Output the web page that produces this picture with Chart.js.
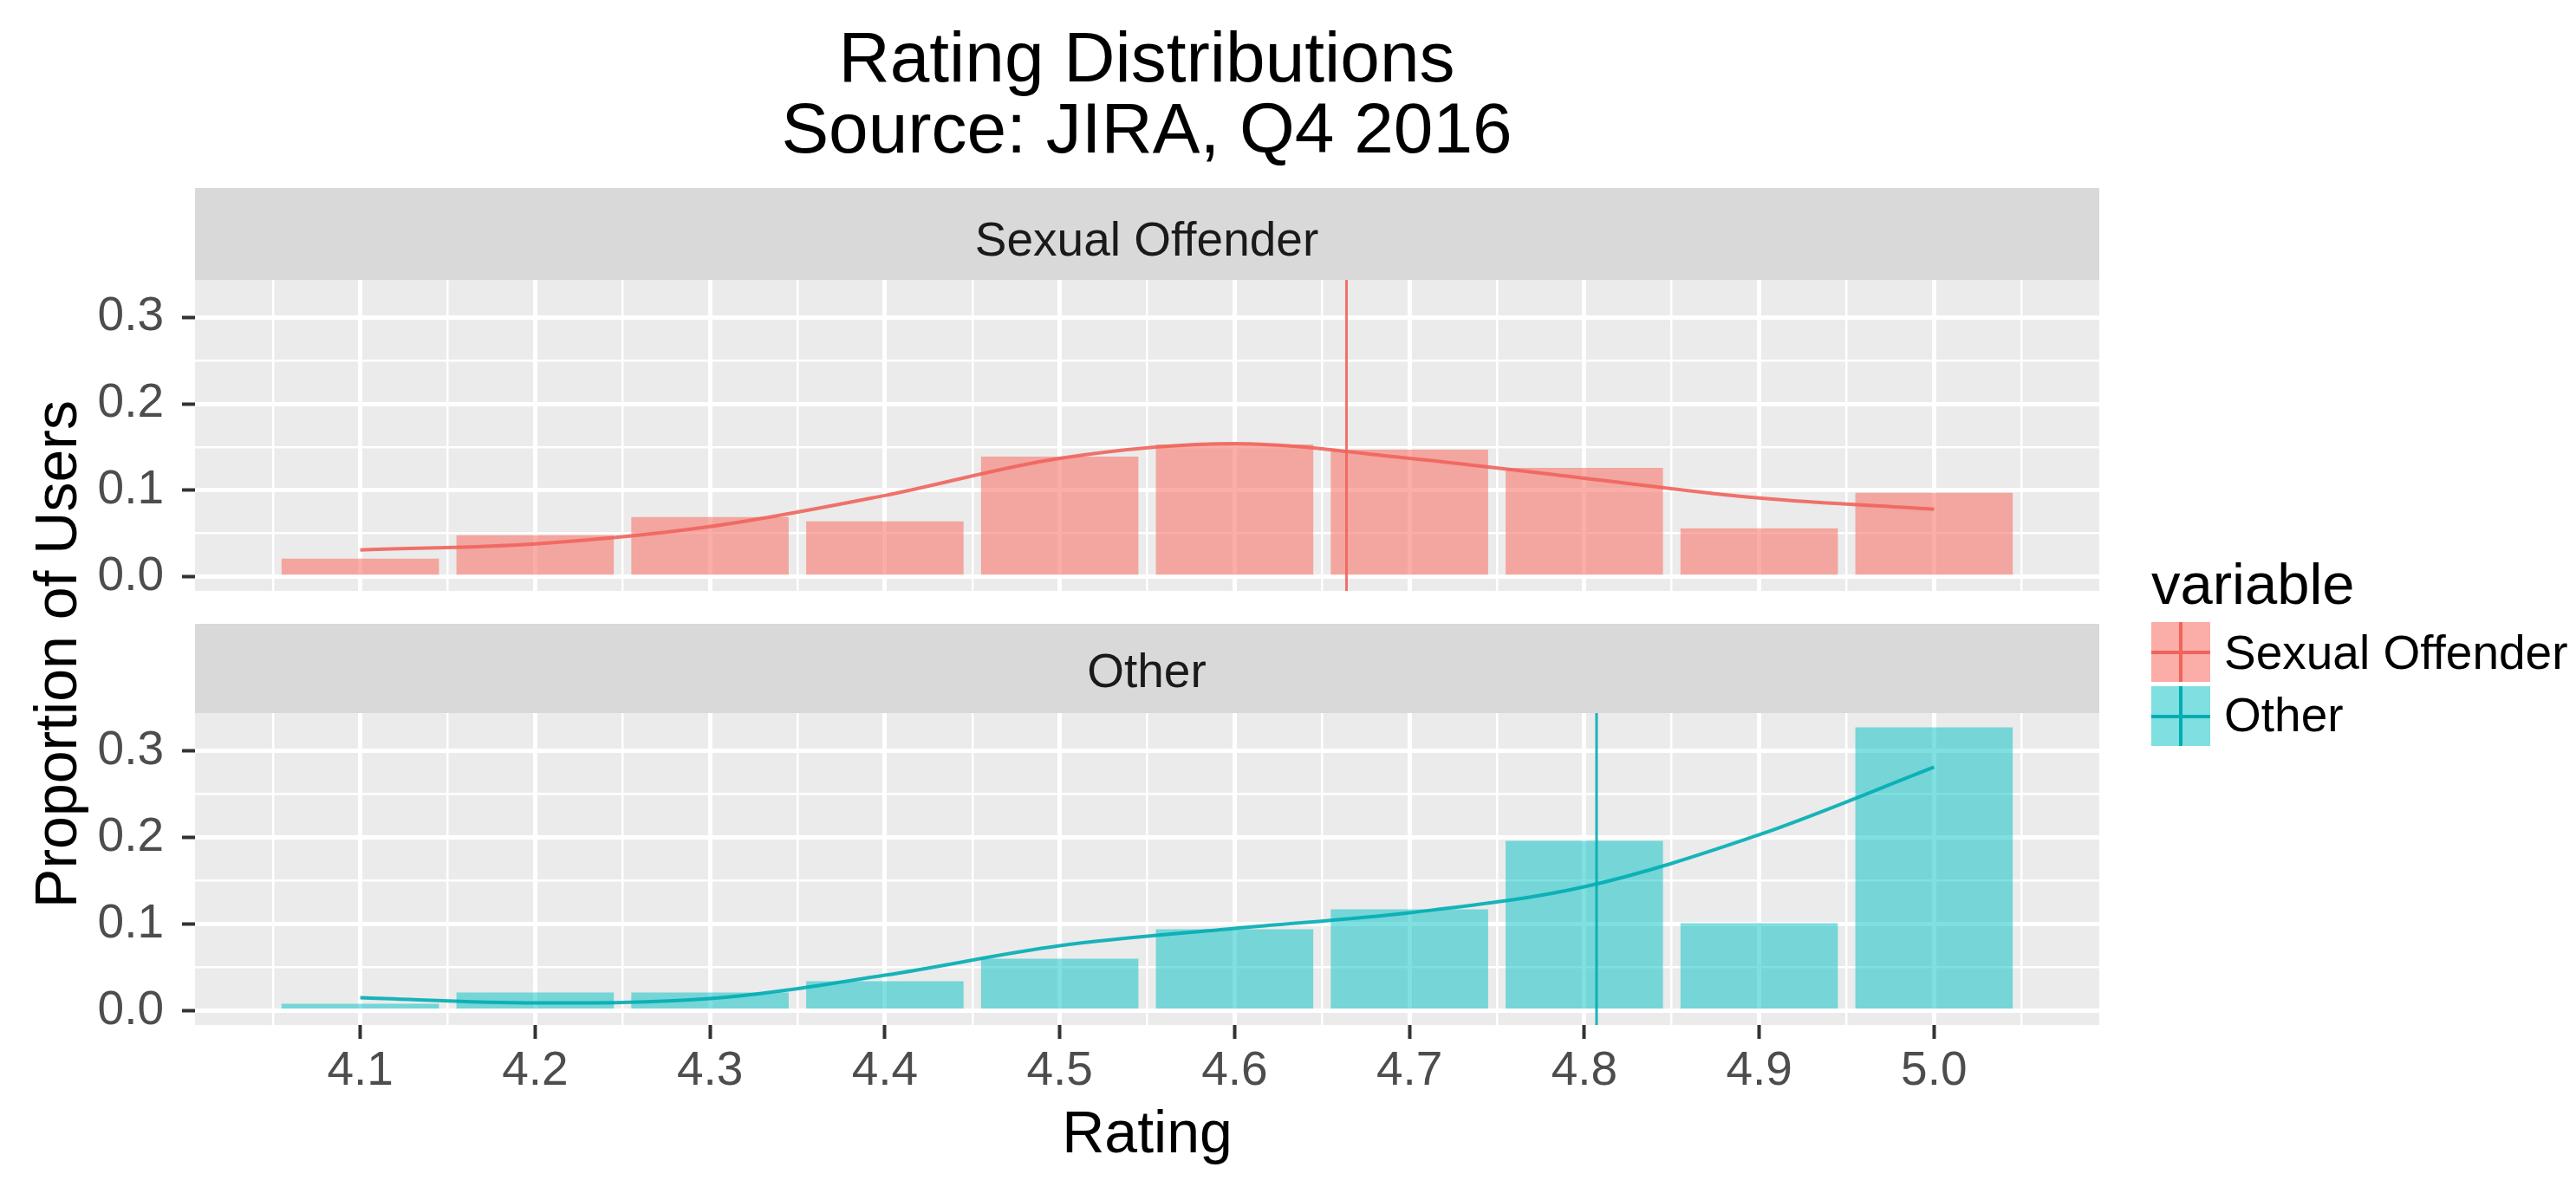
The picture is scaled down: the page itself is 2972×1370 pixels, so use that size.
<!DOCTYPE html>
<html>
<head>
<meta charset="utf-8">
<title>Rating Distributions</title>
<script src="https://cdn.jsdelivr.net/npm/chart.js@4.4.0/dist/chart.umd.min.js"></script>
<style>
  html, body { margin: 0; padding: 0; background: #fff; }
  body { width: 2972px; height: 1370px; position: relative; overflow: hidden;
         font-family: "Liberation Sans", Arial, sans-serif; color: #000; }
  .abs { position: absolute; white-space: nowrap; }
  .center { transform: translateX(-50%); text-align: center; }
  .strip { position: absolute; left: 225px; width: 2197px; background: #D9D9D9; }
  .key { position: absolute; width: 68px; height: 69px; }
  .key .v { position: absolute; left: 32px; top: 0; width: 4px; height: 69px; }
  .key .h { position: absolute; left: 0; top: 33px; width: 68px; height: 4px; }
  canvas { position: absolute; left: 0; }
</style>
</head>
<body>

<div class="abs center" style="left:1323px; top:25px; font-size:82px; line-height:82px;">Rating Distributions</div>
<div class="abs center" style="left:1323px; top:107px; font-size:82px; line-height:82px;">Source: JIRA, Q4 2016</div>

<div class="strip" style="top:217px; height:106px;"></div>
<div class="abs center" style="left:1323px; top:249px; font-size:55px; line-height:55px; color:#1A1A1A;">Sexual Offender</div>
<div class="strip" style="top:720px; height:103px;"></div>
<div class="abs center" style="left:1323px; top:747px; font-size:55px; line-height:55px; color:#1A1A1A;">Other</div>

<div class="abs" style="left:64px; top:755px; font-size:68px; line-height:68px; transform: translate(-50%, -50%) rotate(-90deg);">Proportion of Users</div>

<div class="abs" style="left:2482px; top:640px; font-size:67px; line-height:67px;">variable</div>
<div class="key" style="left:2482px; top:718px; background:rgba(248,118,109,0.6);">
  <div class="v" style="background:#F0645C;"></div><div class="h" style="background:#F0645C;"></div>
</div>
<div class="abs" style="left:2566px; top:726px; font-size:55px; line-height:55px;">Sexual Offender</div>
<div class="key" style="left:2482px; top:792px; background:rgba(0,191,196,0.5);">
  <div class="v" style="background:#00ADB2;"></div><div class="h" style="background:#00ADB2;"></div>
</div>
<div class="abs" style="left:2566px; top:798px; font-size:55px; line-height:55px;">Other</div>

<canvas id="topChart" width="2422" height="359" style="top:323px;"></canvas>
<canvas id="botChart" width="2422" height="547" style="top:823px;"></canvas>

<script>
// ratings (bar centres) and the share of users at each rating
const ratings = [4.1, 4.2, 4.3, 4.4, 4.5, 4.6, 4.7, 4.8, 4.9, 5.0];
const offenderShare = [0.021, 0.048, 0.069, 0.064, 0.139, 0.153, 0.147, 0.126, 0.056, 0.097];
const otherShare = [0.008, 0.021, 0.021, 0.034, 0.060, 0.094, 0.117, 0.196, 0.101, 0.327];

// smoothed curves
const offenderSmooth = [0.031, 0.038, 0.058, 0.094, 0.137, 0.154, 0.137, 0.114, 0.091, 0.078];
const otherSmooth = [0.015, 0.009, 0.014, 0.041, 0.075, 0.095, 0.113, 0.143, 0.203, 0.281];

// mean rating of each group (vertical lines)
const offenderMean = 4.664;
const otherMean = 4.807;

// tick values
const xMajor = [4.1, 4.2, 4.3, 4.4, 4.5, 4.6, 4.7, 4.8, 4.9, 5.0];
const xMinor = [4.05, 4.15, 4.25, 4.35, 4.45, 4.55, 4.65, 4.75, 4.85, 4.95, 5.05];
const yMajor = [0, 0.1, 0.2, 0.3];
const yMinor = [0.05, 0.15, 0.25];

const xMin = 4.0055, xMax = 5.0945;
const yMin = -0.0164, yMax = 0.3434;

Chart.defaults.font.family = "'Liberation Sans', Arial, sans-serif";

const panelBg = {
  id: 'panelBg',
  beforeDraw(chart) {
    const a = chart.chartArea;
    const ctx = chart.ctx;
    ctx.save();
    ctx.fillStyle = '#EBEBEB';
    ctx.fillRect(a.left, a.top, a.right - a.left, a.bottom - a.top);
    ctx.restore();
  }
};

function points(xs, ys) {
  return xs.map((x, i) => ({ x: x, y: ys[i] }));
}

function makePanel(id, share, smooth, mean, fill, lineColor, showX) {
  return new Chart(document.getElementById(id), {
    type: 'bar',
    data: {
      datasets: [
        {
          type: 'line',
          data: [{ x: mean, y: yMin }, { x: mean, y: yMax }],
          borderColor: lineColor,
          borderWidth: 3,
          pointRadius: 0,
          order: 1
        },
        {
          type: 'line',
          data: points(ratings, smooth),
          borderColor: lineColor,
          borderWidth: 4,
          pointRadius: 0,
          tension: 0.4,
          cubicInterpolationMode: 'monotone',
          order: 2
        },
        {
          type: 'bar',
          data: points(ratings, share),
          backgroundColor: fill,
          borderWidth: 0,
          // the bar ruler also counts the 0.05 minor ticks, so 1.8 gives a 0.09 wide bar
          barPercentage: 1.8,
          categoryPercentage: 1.0,
          order: 3
        }
      ]
    },
    options: {
      responsive: false,
      animation: false,
      layout: { padding: 0, autoPadding: false },
      plugins: { legend: { display: false }, tooltip: { enabled: false } },
      scales: {
        x: {
          type: 'linear',
          min: xMin,
          max: xMax,
          offset: false,
          border: { display: false },
          afterBuildTicks: (scale) => {
            scale.ticks = xMinor.concat(xMajor).sort((a, b) => a - b).map(v => ({ value: v }));
          },
          afterFit: (scale) => {
            scale.height = showX ? 187 : 0;
            scale.paddingLeft = 0;
            scale.paddingRight = 0;
          },
          grid: {
            offset: false,
            color: '#FFFFFF',
            lineWidth: (c) => (c.tick && xMajor.includes(c.tick.value)) ? 5 : 2.5,
            drawTicks: showX,
            tickLength: 16,
            tickWidth: 4,
            tickColor: (c) => (c.tick && xMajor.includes(c.tick.value)) ? '#333333' : 'rgba(0,0,0,0)'
          },
          ticks: {
            display: showX,
            autoSkip: false,
            maxRotation: 0,
            padding: 5,
            color: '#4D4D4D',
            font: { size: 55 },
            callback: (v) => xMajor.includes(v) ? v.toFixed(1) : ''
          },
          title: {
            display: showX,
            text: 'Rating',
            color: '#000000',
            font: { size: 68 },
            padding: { top: 0, bottom: 18 }
          }
        },
        y: {
          min: yMin,
          max: yMax,
          border: { display: false },
          afterBuildTicks: (scale) => {
            scale.ticks = yMajor.concat(yMinor).sort((a, b) => a - b).map(v => ({ value: v }));
          },
          afterFit: (scale) => {
            scale.width = 225;
            scale.paddingTop = 0;
            scale.paddingBottom = 0;
          },
          grid: {
            color: '#FFFFFF',
            lineWidth: (c) => (c.tick && yMajor.includes(c.tick.value)) ? 5 : 2.5,
            tickLength: 15,
            tickWidth: 4,
            tickColor: (c) => (c.tick && yMajor.includes(c.tick.value)) ? '#333333' : 'rgba(0,0,0,0)'
          },
          ticks: {
            autoSkip: false,
            padding: 21,
            color: '#4D4D4D',
            font: { size: 55 },
            callback: (v) => yMajor.includes(v) ? v.toFixed(1) : ''
          }
        }
      }
    },
    plugins: [panelBg]
  });
}

makePanel('topChart', offenderShare, offenderSmooth, offenderMean,
  'rgba(248,118,109,0.6)', 'rgba(240,100,92,0.9)', false);
makePanel('botChart', otherShare, otherSmooth, otherMean,
  'rgba(0,191,196,0.5)', 'rgba(0,173,178,0.9)', true);
</script>
</body>
</html>
